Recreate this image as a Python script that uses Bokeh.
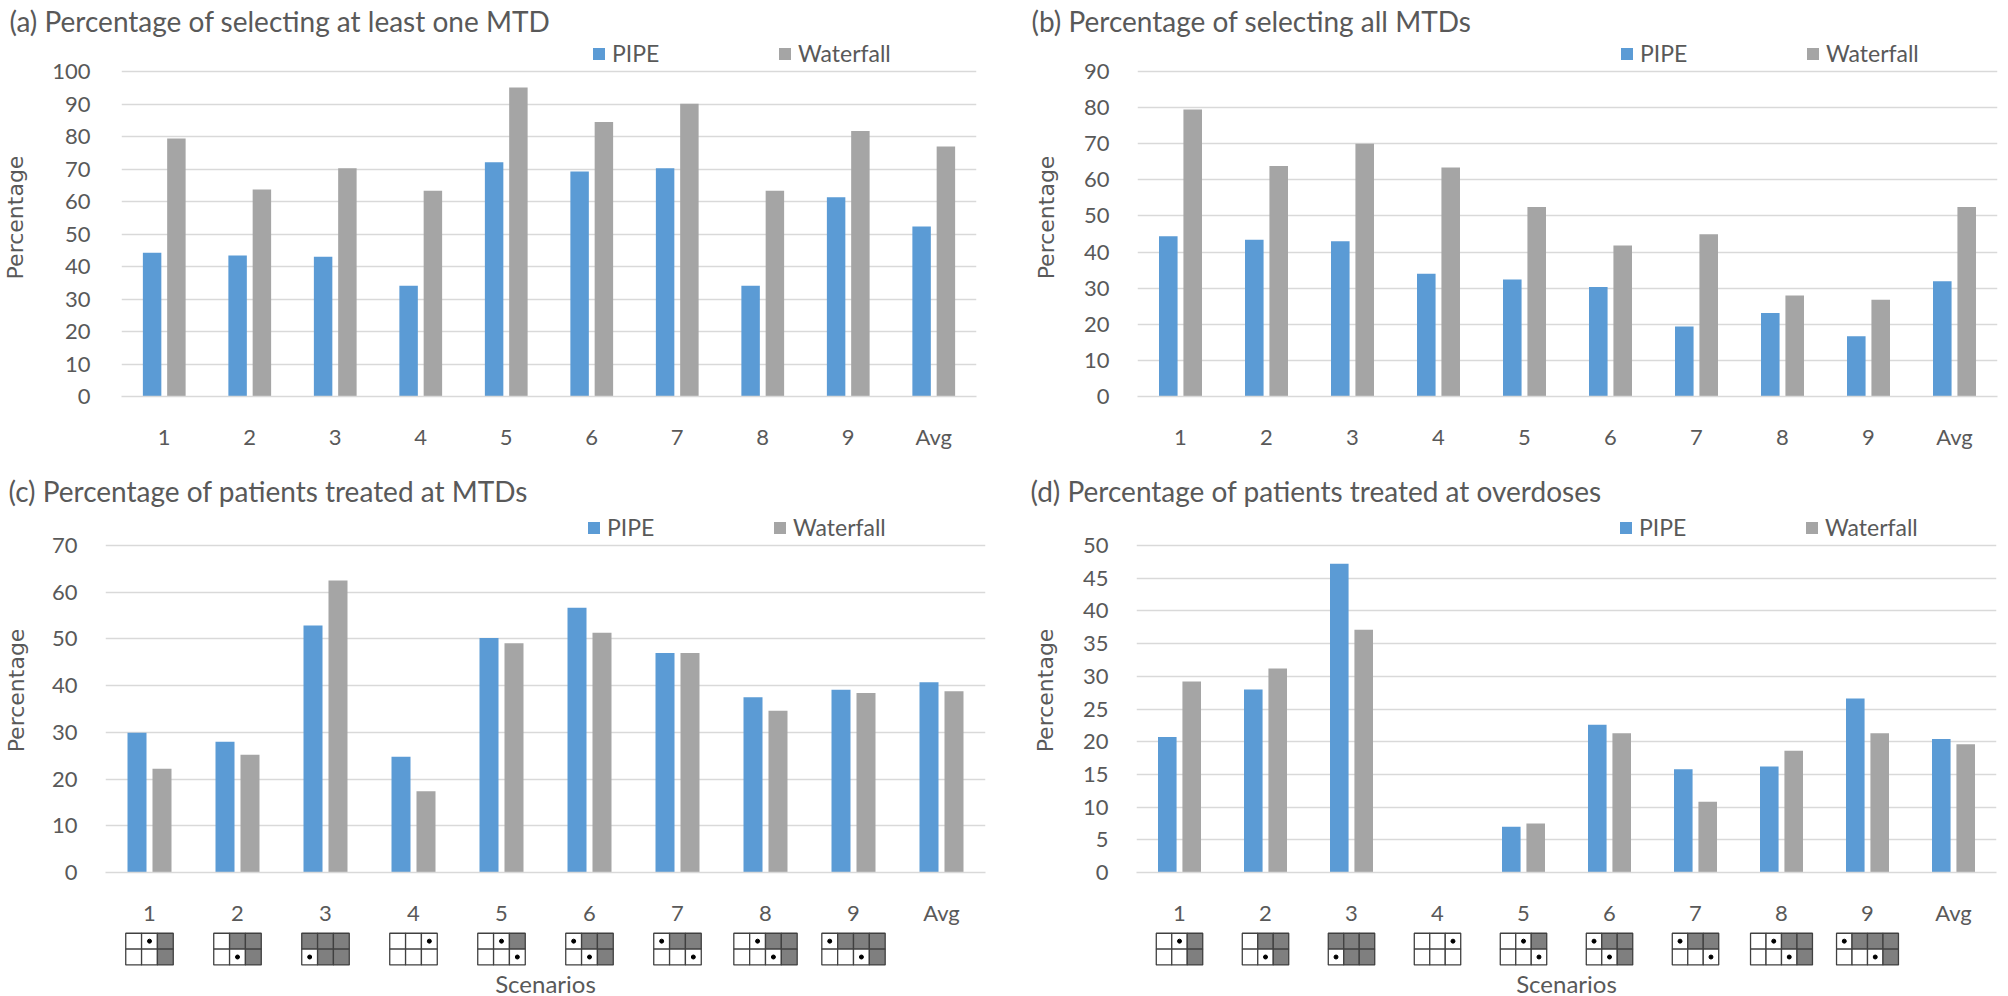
import numpy as np
from bokeh.plotting import figure
from bokeh.models import (Range1d, FixedTicker, Legend, LegendItem,
                          ColumnDataSource, Title)
from bokeh.layouts import row, column
from bokeh.transform import dodge
from bokeh.embed import file_html
from bokeh.resources import INLINE

# ---------------- data ----------------
categories = ["1", "2", "3", "4", "5", "6", "7", "8", "9", "Avg"]
series_names = ["PIPE", "Waterfall"]

# (a) Percentage of selecting at least one MTD
one_mtd_pipe = [44.2, 43.4, 43.0, 34.1, 72.1, 69.2, 70.2, 34.1, 61.3, 52.3]
one_mtd_waterfall = [79.4, 63.7, 70.2, 63.3, 95.1, 84.5, 90.1, 63.3, 81.7, 76.9]
# (b) Percentage of selecting all MTDs
all_mtd_pipe = [44.4, 43.4, 43.0, 34.0, 32.4, 30.3, 19.4, 23.1, 16.7, 31.9]
all_mtd_waterfall = [79.5, 63.8, 70.0, 63.4, 52.5, 41.8, 44.9, 28.0, 26.8, 52.5]
# (c) Percentage of patients treated at MTDs
treated_mtd_pipe = [29.9, 28.0, 52.9, 24.8, 50.2, 56.7, 47.0, 37.5, 39.1, 40.7]
treated_mtd_waterfall = [22.2, 25.2, 62.5, 17.4, 49.1, 51.3, 47.0, 34.6, 38.4, 38.8]
# (d) Percentage of patients treated at overdoses
overdose_pipe = [20.7, 28.0, 47.2, 0.0, 7.0, 22.6, 15.8, 16.2, 26.6, 20.4]
overdose_waterfall = [29.2, 31.2, 37.1, 0.0, 7.5, 21.3, 10.8, 18.6, 21.3, 19.6]

y_ticks_a = list(range(0, 101, 10))
y_ticks_b = list(range(0, 91, 10))
y_ticks_c = list(range(0, 71, 10))
y_ticks_d = list(range(0, 51, 5))

titles = ["(a) Percentage of selecting at least one MTD",
          "(b) Percentage of selecting all MTDs",
          "(c) Percentage of patients treated at MTDs",
          "(d) Percentage of patients treated at overdoses"]

# scenario dose grids: o = safe dose, x = MTD (dot), # = toxic dose
scenario_top = ["ox#", "o##", "###", "oox", "ox#", "x##", "x##", "ox##", "x###"]
scenario_bottom = ["oo#", "ox#", "x##", "ooo", "oox", "ox#", "oox", "oox#", "oox#"]

# ---------------- style ----------------
BLUE = "#5B9BD5"
GRAY = "#A5A5A5"
TXT = "#595959"
GRID = "#D9D9D9"
FONT = "Lato"


def make_panel(title, pipe, water, yticks, g):
    idx = list(range(len(categories)))
    src = ColumnDataSource(dict(idx=idx, cat=categories, pipe=pipe, water=water))
    fh = g["fh"]
    y_end = yticks[-1] * fh / (fh - g["top_gap"])
    p = figure(frame_width=g["fw"], frame_height=fh,
               min_border_left=g["ml"], min_border_right=g["mr"],
               min_border_top=g["mt"], min_border_bottom=g["mb"],
               x_range=Range1d(-0.5, len(categories) - 0.5),
               y_range=Range1d(0, y_end),
               output_backend="svg", toolbar_location=None, title=title)
    p.title.text_font = FONT
    p.title.text_font_size = "28px"
    p.title.text_font_style = "normal"
    p.title.text_color = TXT
    p.title.align = "left"
    p.title.offset = g["toff"]
    p.title.standoff = 2
    p.outline_line_color = None
    p.background_fill_color = "white"
    p.border_fill_color = "white"

    r1 = p.vbar(x=dodge("idx", -0.142, range=p.x_range), top="pipe", width=0.216,
                source=src, fill_color=BLUE, line_color=None)
    r2 = p.vbar(x=dodge("idx", 0.142, range=p.x_range), top="water", width=0.216,
                source=src, fill_color=GRAY, line_color=None)

    p.xgrid.visible = False
    p.ygrid.grid_line_color = GRID
    p.ygrid.grid_line_width = 1.6

    p.yaxis.ticker = FixedTicker(ticks=yticks)
    p.yaxis.axis_line_color = None
    p.yaxis.major_tick_line_color = None
    p.yaxis.minor_tick_line_color = None
    p.yaxis.major_label_text_font = FONT
    p.yaxis.major_label_text_font_size = "22px"
    p.yaxis.major_label_text_color = TXT
    p.yaxis.major_label_standoff = g["ystand"]
    p.yaxis.axis_label = "Percentage"
    p.yaxis.axis_label_text_font = "DejaVu Sans"
    p.yaxis.axis_label_text_font_size = "22px"
    p.yaxis.axis_label_text_font_style = "normal"
    p.yaxis.axis_label_text_color = TXT
    p.yaxis.axis_label_standoff = g["alstand"]

    p.xaxis.ticker = FixedTicker(ticks=idx)
    p.xaxis.major_label_overrides = {i: c for i, c in enumerate(categories)}
    p.xaxis.axis_line_color = GRID
    p.xaxis.axis_line_width = 1.6
    p.xaxis.major_tick_line_color = None
    p.xaxis.minor_tick_line_color = None
    p.xaxis.major_label_text_font = FONT
    p.xaxis.major_label_text_font_size = "22px"
    p.xaxis.major_label_text_color = TXT
    p.xaxis.major_label_standoff = 20

    legend = Legend(items=[LegendItem(label=series_names[0], renderers=[r1]),
                           LegendItem(label=series_names[1], renderers=[r2])],
                    orientation="horizontal", location=(g["lx"], g["ly"]),
                    glyph_width=15, glyph_height=15, label_standoff=6,
                    label_width=155, spacing=10, padding=0, margin=0,
                    border_line_color=None, background_fill_alpha=0,
                    label_text_font=FONT, label_text_font_size="23px",
                    label_text_color=TXT, label_height=20)
    p.add_layout(legend)
    return p


def make_icons(main, g):
    cell_w = 0.18
    xs, ys, fills, dx, dy = [], [], [], [], []
    for i, (top, bot) in enumerate(zip(scenario_top, scenario_bottom)):
        n = len(top)
        for r_y, rowcode in ((1.5, top), (0.5, bot)):
            for c, ch in enumerate(rowcode):
                x = i + (c - (n - 1) / 2) * cell_w
                xs.append(x)
                ys.append(r_y)
                fills.append("#7F7F7F" if ch == "#" else "white")
                if ch == "x":
                    dx.append(x)
                    dy.append(r_y)
    q = figure(frame_width=g["fw"], frame_height=38,
               min_border_left=g["ml"], min_border_right=g["mr"],
               min_border_top=0, min_border_bottom=0,
               x_range=main.x_range, y_range=Range1d(-0.1, 2.3),
               x_axis_location=None, y_axis_location=None,
               output_backend="svg", toolbar_location=None)
    q.grid.visible = False
    q.outline_line_color = None
    q.rect(x=xs, y=ys, width=cell_w, height=1, fill_color=fills,
           line_color="#404040", line_width=1.3)
    q.scatter(x=dx, y=dy, size=4, color="black")
    q.add_layout(Title(text="Scenarios", align="center", text_font=FONT,
                       text_font_size="24px", text_font_style="normal",
                       text_color=TXT, standoff=0), "below")
    return q


geo_a = dict(ml=114, fw=855, mr=27, mt=37, fh=358, mb=67, top_gap=33,
             toff=-112, ystand=25, alstand=21, lx=470, ly=329)
geo_b = dict(ml=134, fw=860, mr=2, mt=37, fh=358, mb=67, top_gap=33,
             toff=-106, ystand=22, alstand=22, lx=482, ly=329)
geo_c = dict(ml=99, fw=880, mr=17, mt=45, fh=364, mb=40, top_gap=37,
             toff=-97, ystand=22, alstand=20, lx=481, ly=331)
geo_d = dict(ml=134, fw=860, mr=2, mt=45, fh=364, mb=40, top_gap=37,
             toff=-106, ystand=22, alstand=22, lx=482, ly=331)

pa = make_panel(titles[0], one_mtd_pipe, one_mtd_waterfall, y_ticks_a, geo_a)
pb = make_panel(titles[1], all_mtd_pipe, all_mtd_waterfall, y_ticks_b, geo_b)
pc = make_panel(titles[2], treated_mtd_pipe, treated_mtd_waterfall, y_ticks_c, geo_c)
pd_ = make_panel(titles[3], overdose_pipe, overdose_waterfall, y_ticks_d, geo_d)
ic = make_icons(pc, geo_c)
idd = make_icons(pd_, geo_d)

layout = column(row(pa, pb), row(column(pc, ic), column(pd_, idd)))

with open("out.html", "w") as f:
    f.write(file_html(layout, INLINE))
